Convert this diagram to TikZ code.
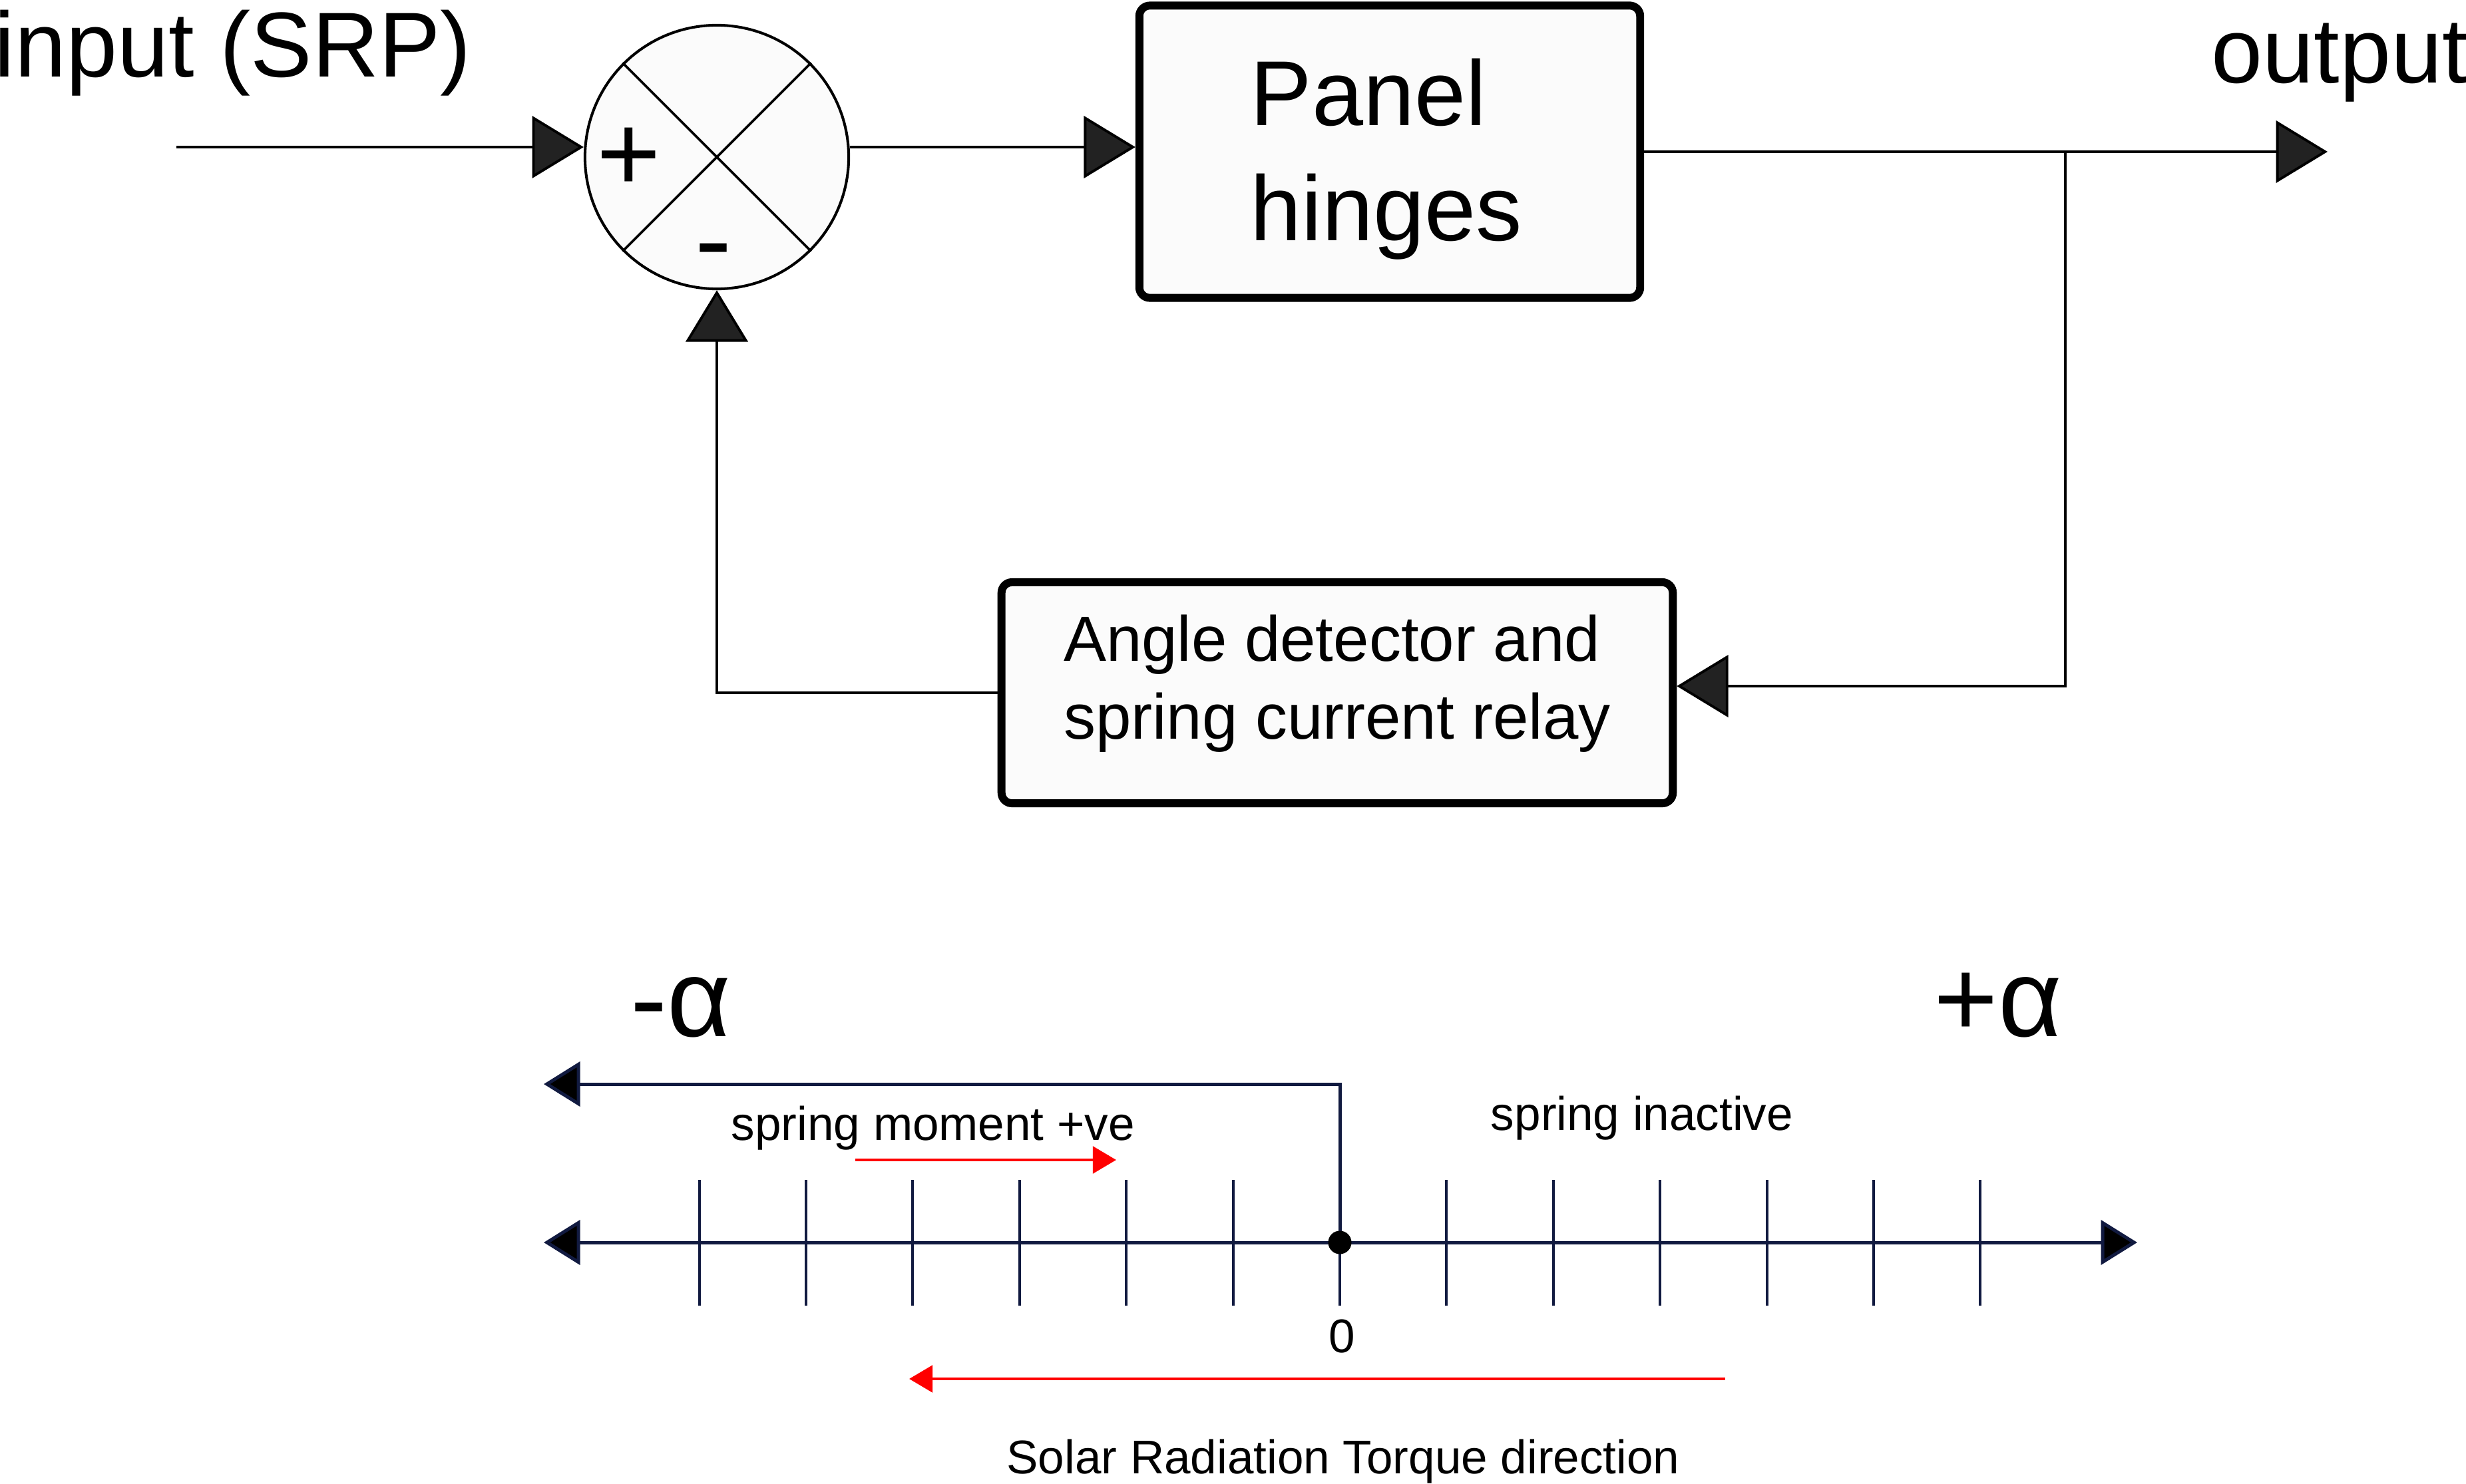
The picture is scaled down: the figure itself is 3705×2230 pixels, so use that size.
\documentclass[tikz,border=0pt]{standalone}
\usepackage{fontspec}
\setmainfont{Liberation Sans}
\usetikzlibrary{arrows.meta}
\definecolor{navy}{HTML}{111A40}
\definecolor{arrgray}{HTML}{222222}
\definecolor{boxfill}{HTML}{FBFBFB}
\definecolor{redarr}{HTML}{FF0000}
\begin{document}
\begin{tikzpicture}[x=0.01cm,y=-0.01cm,
  conn/.style={line width=1.1pt, draw=black},
  mainarr/.style={-{Triangle[length=22pt,width=26.5pt,fill=arrgray]}},
  blockbox/.style={draw=black, line width=3.4pt, fill=boxfill, rounded corners=4.5pt, inner sep=0pt},
  bigtxt/.style={font=\fontsize{39.4}{49.2}\selectfont, inner sep=0pt},
  midtxt/.style={font=\fontsize{27.3}{33.3}\selectfont, inner sep=0pt},
  smalltxt/.style={font=\fontsize{20.2}{24}\selectfont, inner sep=0pt},
  signtxt/.style={font=\fontsize{47}{56}\selectfont, inner sep=0pt},
  axisline/.style={draw=navy, line width=1.42pt},
  axisarr/.style={-{Triangle[length=15.5pt,width=19pt,fill=black]}},
  tickline/.style={draw=navy, line width=1.1pt},
  redline/.style={draw=redarr, line width=1.3pt, -{Triangle[length=10pt,width=11.5pt,fill=redarr]}},
]
\useasboundingbox (0,0) rectangle (3705,2230);

% blocks
\node[blockbox, minimum width=7.52cm, minimum height=4.39cm] (panel) at (2088,228) {};
\node[blockbox, minimum width=10.08cm, minimum height=3.32cm] (fb) at (2009,1041) {};
\node[circle, draw=black, line width=1.15pt, fill=boxfill, minimum size=3.96cm, inner sep=0pt] (sum) at (1077,236) {};
\draw[conn] (sum.45) -- (sum.225);
\draw[conn] (sum.135) -- (sum.315);

% texts
\node[bigtxt, anchor=base west] (inlbl) at (-9,115) {input (SRP)};
\node[bigtxt, anchor=base west] (outlbl) at (3322,124) {output};
\node[bigtxt, align=left] (paneltxt) at (2083,239.5) {Panel\\hinges};
\node[midtxt, align=left] (fbtxt) at (2009,1027.5) {Angle detector and\\spring current relay};
\node[signtxt, anchor=base] (plus) at (945,287) {+};
\node[signtxt, anchor=base] (minus) at (1072,416) {-};

% connectors
\coordinate (inStart) at (265,221);
\draw[conn, mainarr] (inStart) -- (inStart -| sum.west);
\draw[conn, mainarr] (sum.east |- inStart) -- (inStart -| panel.west);
\coordinate (outEnd) at (3497,228);
\draw[conn, mainarr] (panel.east) -- (outEnd);
\coordinate (junc) at (3103,228);
\coordinate (fbR) at (3103,1031);
\draw[conn, mainarr] (junc) -- (fbR) -- (fbR -| fb.east);
\draw[conn, mainarr] (fb.west) -- (fb.west -| sum.south) -- (sum.south);

% bottom axis
\coordinate (axL) at (817,1867);
\coordinate (axR) at (3211,1867);
\coordinate (axM) at (2013,1867);
\draw[axisline, axisarr] (axM) -- (axR);
\draw[axisline, axisarr] (axM) -- (axL);
\foreach \k in {-6,-5,-4,-3,-2,-1,1,2,3,4,5,6}
  \draw[tickline] ({2013+160.4*\k},1773) -- ({2013+160.4*\k},1962);
\coordinate (zeroBot) at (2013,1962);
\coordinate (zeroTop) at (2013,1629);
\coordinate (brEnd) at (817,1629);
\draw[tickline] (zeroBot) -- (axM);
\draw[axisline, axisarr] (axM) -- (zeroTop) -- (brEnd);
\node[circle, fill=black, minimum size=0.35cm, inner sep=0pt] (zero) at (axM) {};

\coordinate (r1s) at (1285,1743);
\coordinate (r1e) at (1677,1743);
\draw[redline] (r1s) -- (r1e);
\coordinate (r2s) at (2592,2072);
\coordinate (r2e) at (1366,2072);
\draw[redline] (r2s) -- (r2e);

\node[signtxt, anchor=base] (nalpha) at (1023,1557) {-α};
\node[signtxt, anchor=base] (palpha) at (3002,1557) {+α};
\node[smalltxt, anchor=base] (smlbl) at (1402,1713) {spring moment +ve};
\node[smalltxt, anchor=base] (silbl) at (2467,1698) {spring inactive};
\node[smalltxt, anchor=base] (zlbl) at (2016,2032) {0};
\node[smalltxt, anchor=base] (srlbl) at (2018,2214) {Solar Radiation Torque direction};
\end{tikzpicture}
\end{document}
